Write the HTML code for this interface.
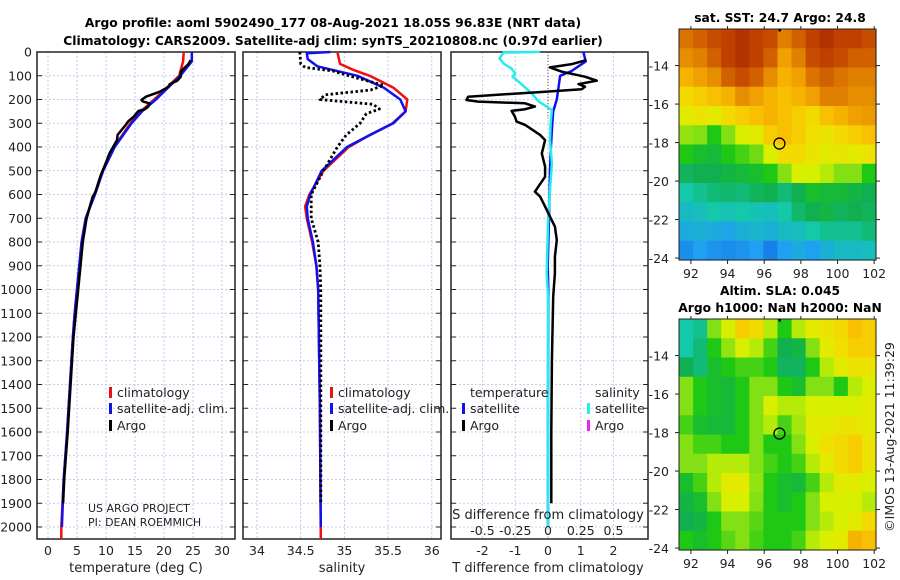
<!DOCTYPE html>
<html><head><meta charset="utf-8"><style>
body{margin:0;background:#fff;}
svg{display:block;font-family:"DejaVu Sans","Liberation Sans",sans-serif;}
</style></head><body>
<svg id="c" width="900" height="580" viewBox="0 0 900 580">
<text x="333" y="27" text-anchor="middle" font-size="12.3" font-weight="bold">Argo profile: aoml 5902490_177 08-Aug-2021 18.05S 96.83E (NRT data)</text>
<text x="333" y="45" text-anchor="middle" font-size="12.3" font-weight="bold">Climatology: CARS2009. Satellite-adj clim: synTS_20210808.nc (0.97d earlier)</text>
</svg>
<script>
const depthTicks=[0,100,200,300,400,500,600,700,800,900,1000,1100,1200,1300,1400,1500,1600,1700,1800,1900,2000];
const tempTicks=[0,5,10,15,20,25,30];
const salTicks=[34,34.5,35,35.5,36];
const tdTicks=[-2,-1,0,1,2];
const sdTicks=[-0.5,-0.25,0,0.25,0.5];
const sdTickLabels=["-0.5","-0.25","0","0.25","0.5"];
// temperature profiles [depth, value]
const tempClim=[[0,23.4],[40,23.3],[100,22.6],[150,20.5],[200,18.3],[250,16],[300,14.2],[400,11.4],[500,9.4],[600,8.0],[700,6.5],[800,5.8],[900,5.4],[1000,5.0],[1100,4.6],[1200,4.3],[1400,3.8],[1600,3.3],[1800,2.7],[2000,2.3],[2050,2.3]];
const tempSat=[[0,24.8],[40,24.8],[100,22.8],[150,20.7],[200,18.6],[250,16.2],[300,14.4],[400,11.5],[500,9.5],[600,8.1],[700,6.5],[800,5.8],[900,5.4],[1000,5.0],[1100,4.6],[1200,4.3],[1400,3.8],[1600,3.3],[1800,2.7],[2000,2.4]];
const tempArgo=[[34,24.6],[51,24.2],[65,23.6],[83,22.9],[104,22.9],[121,22.3],[135,21.0],[146,20.8],[157,20.0],[167,19.3],[188,16.9],[202,16.1],[209,16.4],[216,17.5],[230,17.3],[241,16.7],[248,15.6],[272,14.8],[293,13.8],[307,13.4],[349,12.0],[371,11.9],[427,10.6],[483,9.7],[525,9.0],[588,8.2],[609,7.7],[651,7.2],[707,6.6],[800,6.0],[900,5.6],[1000,5.2],[1200,4.4],[1400,3.9],[1600,3.4],[1800,2.8],[1900,2.6]];
// salinity profiles
const salClim=[[0,34.92],[50,34.95],[75,35.1],[100,35.29],[150,35.56],[200,35.72],[250,35.70],[300,35.55],[350,35.29],[400,35.05],[500,34.76],[600,34.6],[650,34.55],[700,34.57],[800,34.63],[900,34.68],[1000,34.7],[1500,34.72],[2050,34.73]];
const salSat=[[0,34.84],[5,34.57],[30,34.58],[60,34.69],[100,35.15],[150,35.45],[200,35.64],[250,35.70],[300,35.56],[350,35.29],[400,35.03],[500,34.74],[600,34.61],[650,34.57],[700,34.58],[800,34.64],[900,34.68],[1000,34.7],[1500,34.72],[2000,34.73]];
const salArgo=[[0,34.49],[50,34.5],[65,34.55],[80,34.87],[100,35.05],[140,35.45],[160,35.3],[180,34.78],[200,34.72],[220,35.33],[240,35.4],[260,35.25],[300,35.18],[350,35.02],[400,34.92],[500,34.76],[600,34.62],[700,34.62],[800,34.7],[900,34.72],[1000,34.73],[1500,34.73],[1900,34.73]];
// differences
const tdSat=[[0,1.08],[40,1.15],[60,0.93],[80,0.72],[100,0.37],[150,0.32],[200,0.27],[250,0.16],[300,0.13],[400,0.09],[500,0.06],[700,0.03],[900,-0.01],[1000,0.01],[1500,0.0],[2000,0.0]];
const tdArgo=[[34,1.18],[51,0.73],[65,0.06],[83,0.42],[104,1.13],[121,1.49],[135,0.93],[146,1.13],[157,1.03],[167,-0.09],[188,-2.44],[202,-2.49],[209,-2.13],[216,-0.7],[230,-0.4],[241,-0.7],[248,-1.11],[272,-1.01],[293,-0.96],[307,-0.7],[349,-0.24],[371,-0.09],[427,-0.19],[483,-0.09],[525,-0.09],[588,-0.4],[609,-0.24],[651,-0.09],[707,0.11],[735,0.21],[792,0.27],[862,0.21],[932,0.21],[1030,0.16],[1300,0.12],[1600,0.1],[1900,0.1]];
const sdSat=[[0,-0.06],[2,-0.34],[27,-0.37],[48,-0.34],[69,-0.28],[90,-0.25],[104,-0.27],[132,-0.21],[174,-0.125],[209,-0.07],[244,0.03],[300,0.02],[371,0.015],[469,0.03],[581,0.015],[721,0.0],[932,-0.01],[1030,0.0],[1500,0.0],[2000,0.0]];
// map ticks
const lonTicks=[92,94,96,98,100,102];
const latTicks=[-14,-16,-18,-20,-22,-24];
const floatLon=96.83, floatLat=-18.05;
// SST map (colour index 0..1), rows north->south, 14 cols
const sstGrid=[
[.82,.85,.88,.9,.92,.9,.88,.8,.85,.9,.92,.9,.9,.88],
[.78,.8,.85,.9,.92,.9,.85,.75,.8,.88,.9,.88,.85,.85],
[.72,.75,.78,.85,.88,.85,.78,.72,.75,.82,.85,.82,.8,.8],
[.66,.68,.7,.72,.78,.75,.72,.7,.72,.75,.8,.8,.78,.78],
[.62,.64,.62,.66,.68,.7,.72,.7,.68,.66,.7,.72,.75,.76],
[.56,.55,.5,.55,.6,.62,.68,.7,.68,.65,.64,.66,.68,.7],
[.5,.48,.47,.5,.52,.54,.6,.66,.66,.64,.62,.63,.62,.64],
[.44,.45,.45,.46,.47,.48,.5,.55,.6,.6,.58,.55,.55,.5],
[.38,.4,.42,.43,.42,.44,.45,.42,.45,.48,.47,.47,.46,.45],
[.35,.36,.38,.37,.38,.37,.36,.38,.43,.45,.46,.44,.45,.44],
[.32,.33,.32,.31,.33,.34,.33,.35,.36,.38,.4,.4,.4,.42],
[.27,.3,.28,.27,.28,.3,.25,.3,.32,.3,.33,.35,.35,.36]];
const slaGrid=[
[.38,.4,.55,.6,.68,.66,.58,.5,.58,.62,.64,.66,.7,.68],
[.38,.42,.5,.56,.6,.58,.52,.45,.46,.55,.62,.65,.68,.68],
[.45,.42,.48,.5,.52,.52,.5,.44,.44,.5,.58,.62,.64,.64],
[.55,.5,.48,.47,.5,.55,.55,.5,.48,.55,.55,.5,.58,.6],
[.55,.5,.48,.47,.5,.55,.6,.58,.58,.6,.6,.6,.6,.62],
[.52,.48,.47,.47,.5,.55,.58,.52,.57,.62,.62,.64,.64,.62],
[.55,.52,.52,.5,.5,.55,.5,.5,.55,.6,.65,.66,.68,.64],
[.55,.55,.58,.58,.58,.55,.52,.5,.52,.58,.62,.66,.68,.64],
[.48,.52,.58,.62,.62,.56,.5,.48,.47,.52,.58,.62,.62,.6],
[.46,.48,.55,.6,.6,.55,.5,.48,.5,.55,.6,.6,.6,.58],
[.45,.46,.5,.55,.55,.53,.5,.5,.5,.55,.58,.6,.62,.66],
[.5,.48,.5,.53,.55,.52,.5,.5,.52,.58,.6,.62,.72,.7]];

const NS='http://www.w3.org/2000/svg';
const svg=document.getElementById('c');
function mk(tag,attrs,parent){const e=document.createElementNS(NS,tag);for(const k in attrs)e.setAttribute(k,attrs[k]);(parent||svg).appendChild(e);return e;}
function txt(x,y,s,size,anchor,parent){const t=mk('text',{x:x,y:y,'font-size':size,'text-anchor':anchor||'start',fill:'#222'},parent);t.textContent=s;return t;}

const yTop=52, yBot=539;
function yD(d){return yTop+d*0.2375;}
function xT(v){return 48+v*5.8;}
function xS(v){return 257+(v-34)*87.4;}
function xTD(v){return 548+v*32.75;}
function xSD(v){return 548+v*131;}

function drawPanel(x0,x1,name,xticksPix){
 const g=mk('g',{});
 
 
 depthTicks.forEach(d=>{const l=mk('line',{x1:x0,x2:x1,y1:yD(d),y2:yD(d),stroke:'#b8bde8','stroke-width':0.8,'stroke-dasharray':'2,2'},g);
  
  mk('line',{x1:x0,x2:x0+5,y1:yD(d),y2:yD(d),stroke:'#222'},g);mk('line',{x1:x1-5,x2:x1,y1:yD(d),y2:yD(d),stroke:'#222'},g);});
 xticksPix.forEach(x=>{const l=mk('line',{x1:x,x2:x,y1:yTop,y2:yBot,stroke:'#b8bde8','stroke-width':0.8,'stroke-dasharray':'2,2'},g);
  });
 const r=mk('rect',{x:x0,y:yTop,width:x1-x0,height:yBot-yTop,fill:'none',stroke:'#222','stroke-width':1.5},g);
 
 return g;
}
function line(data,fx,color,w,dash,name,parent){
 const p=data.map((d,i)=>(i?'L':'M')+fx(d[1]).toFixed(1)+','+yD(d[0]).toFixed(1)).join('');
 const e=mk('path',{d:p,fill:'none',stroke:color,'stroke-width':w,'stroke-linejoin':'round'},parent);
 if(dash)e.setAttribute('stroke-dasharray',dash);
 return e;
}
depthTicks.forEach(d=>{const t=txt(32,yD(d)+4.5,String(d),12.5,'end');});

const g1=drawPanel(37,235,'temperature-panel',tempTicks.map(xT));
line(tempClim,xT,'#ee1111',2.5,null,'temperature-climatology-line',g1);
line(tempSat,xT,'#1111ee',2.5,null,'temperature-satellite-line',g1);
line(tempArgo,xT,'#000',2.5,null,'temperature-argo-line',g1);
tempTicks.forEach(v=>{const t=txt(xT(v),555,String(v),12.5,'middle');});
let t=txt(136,572,'temperature (deg C)',13,'middle');

const g2=drawPanel(243,441,'salinity-panel',salTicks.map(xS));
line(salClim,xS,'#ee1111',2.5,null,'salinity-climatology-line',g2);
line(salSat,xS,'#1111ee',2.5,null,'salinity-satellite-line',g2);
line(salArgo,xS,'#000',2.8,'2.5,2.5','salinity-argo-line',g2);
salTicks.forEach(v=>{const t=txt(xS(v),555,String(v),12.5,'middle');});
t=txt(342,572,'salinity',13,'middle');

const g3=drawPanel(451,648,'difference-panel',tdTicks.map(xTD));
mk('line',{x1:548,x2:548,y1:yTop,y2:yD(280),stroke:'#705030','stroke-width':1,'stroke-dasharray':'1,2'},g3);
line(tdSat,xTD,'#1111ee',2.5,null,'temperature-diff-satellite-line',g3);
line(sdSat,xSD,'#22eeee',2.5,null,'salinity-diff-satellite-line',g3);
line(tdArgo,xTD,'#000',2.5,null,'temperature-diff-argo-line',g3);
tdTicks.forEach(v=>{const t=txt(xTD(v),555,String(v),12.5,'middle');});
sdTicks.forEach((v,i)=>{const t=txt(xSD(v),535,sdTickLabels[i],12.5,'middle');});
t=txt(548,519,'S difference from climatology',13,'middle');
t=txt(548,572,'T difference from climatology',13,'middle');

function legEntry(x,y,color,label,name){const g=mk('g',{});
 mk('rect',{x:x,y:y-10,width:3,height:11,fill:color},g);txt(x+8,y,label,12.5,'start',g);}
legEntry(109,397,'#ee1111','climatology','legend-climatology');
legEntry(109,413,'#1111ee','satellite-adj. clim.','legend-satellite');
legEntry(109,430,'#000','Argo','legend-argo');
legEntry(330,397,'#ee1111','climatology','legend-climatology-sal');
legEntry(330,413,'#1111ee','satellite-adj. clim.','legend-satellite-sal');
legEntry(330,430,'#000','Argo','legend-argo-sal');
t=txt(470,397,'temperature',12.5);
t=txt(595,397,'salinity',12.5);
legEntry(462,413,'#1111ee','satellite','legend-t-satellite');
legEntry(462,430,'#000','Argo','legend-t-argo');
legEntry(587,413,'#22eeee','satellite','legend-s-satellite');
legEntry(587,430,'#ee22ee','Argo','legend-s-argo');
t=txt(88,512,'US ARGO PROJECT',11);
t=txt(88,526,'PI: DEAN ROEMMICH',11);

const cstops=[[0.2,[16,96,224]],[0.3,[32,160,240]],[0.38,[20,200,170]],[0.45,[16,176,80]],[0.5,[30,200,20]],[0.55,[130,224,20]],[0.6,[216,240,0]],[0.65,[240,224,0]],[0.7,[248,192,0]],[0.75,[240,160,0]],[0.8,[224,128,0]],[0.85,[208,96,0]],[0.9,[192,64,0]],[0.95,[160,32,0]]];
function cmap(v){if(v<=cstops[0][0])return 'rgb('+cstops[0][1]+')';
 for(let i=1;i<cstops.length;i++){if(v<=cstops[i][0]){const a=cstops[i-1],b=cstops[i],f=(v-a[0])/(b[0]-a[0]);
  return 'rgb('+a[1].map((c,j)=>Math.round(c+(b[1][j]-c)*f)).join(',')+')';}}
 return 'rgb('+cstops[cstops.length-1][1]+')';}
function drawMap(y0,y1,grid,name,titleLines){
 const x0=679,x1=876,lon0=91.35,lon1=102.1,lat0=-12.1,lat1=-24.1;
 const xL=v=>x0+(v-lon0)/(lon1-lon0)*(x1-x0), yL=v=>y0+(v-lat0)/(lat1-lat0)*(y1-y0);
 const g=mk('g',{});
 const rows=grid.length,cols=grid[0].length,cw=(x1-x0)/cols,ch=(y1-y0)/rows;
 grid.forEach((row,r)=>row.forEach((v,c)=>{const e=mk('rect',{x:(x0+c*cw).toFixed(2),y:(y0+r*ch).toFixed(2),width:(cw+0.6).toFixed(2),height:(ch+0.6).toFixed(2),fill:cmap(v)},g);
  }));
 mk('rect',{x:x0,y:y0,width:x1-x0,height:y1-y0,fill:'none',stroke:'#222','stroke-width':1},g);
 lonTicks.forEach(v=>{mk('line',{x1:xL(v),x2:xL(v),y1:y1,y2:y1+4,stroke:'#222'},g);mk('line',{x1:xL(v),x2:xL(v),y1:y0,y2:y0-3,stroke:'#222'},g);
  const t=txt(xL(v),y1+18,String(v),12.5,'middle',g);});
 latTicks.forEach(v=>{mk('line',{x1:x0-4,x2:x0,y1:yL(v),y2:yL(v),stroke:'#222'},g);mk('line',{x1:x1,x2:x1+4,y1:yL(v),y2:yL(v),stroke:'#222'},g);
  const t=txt(x0-10,yL(v)+5,String(v),12.5,'end',g);});
 const c=mk('circle',{cx:xL(floatLon),cy:yL(floatLat),r:5.5,fill:'none',stroke:'#000','stroke-width':1.3},g);
 
 mk('rect',{x:xL(floatLon)-1,y:y0,width:2.5,height:2.5,fill:'#000'},g);
 titleLines.forEach((s,i)=>{const t=txt(780,y0-(titleLines.length-i)*17+10,s,12.3,'middle',g);t.setAttribute('font-weight','bold');t.setAttribute('fill','#000');
  });
}
drawMap(29,260,sstGrid,'sst-map',['sat. SST: 24.7 Argo: 24.8']);
drawMap(319,550,slaGrid,'sla-map',['Altim. SLA: 0.045','Argo h1000: NaN h2000: NaN']);
t=txt(0,0,'©IMOS 13-Aug-2021 11:39:29',12.5,'middle');
t.setAttribute('transform','translate(894,437) rotate(-90)');

</script>
</body></html>
